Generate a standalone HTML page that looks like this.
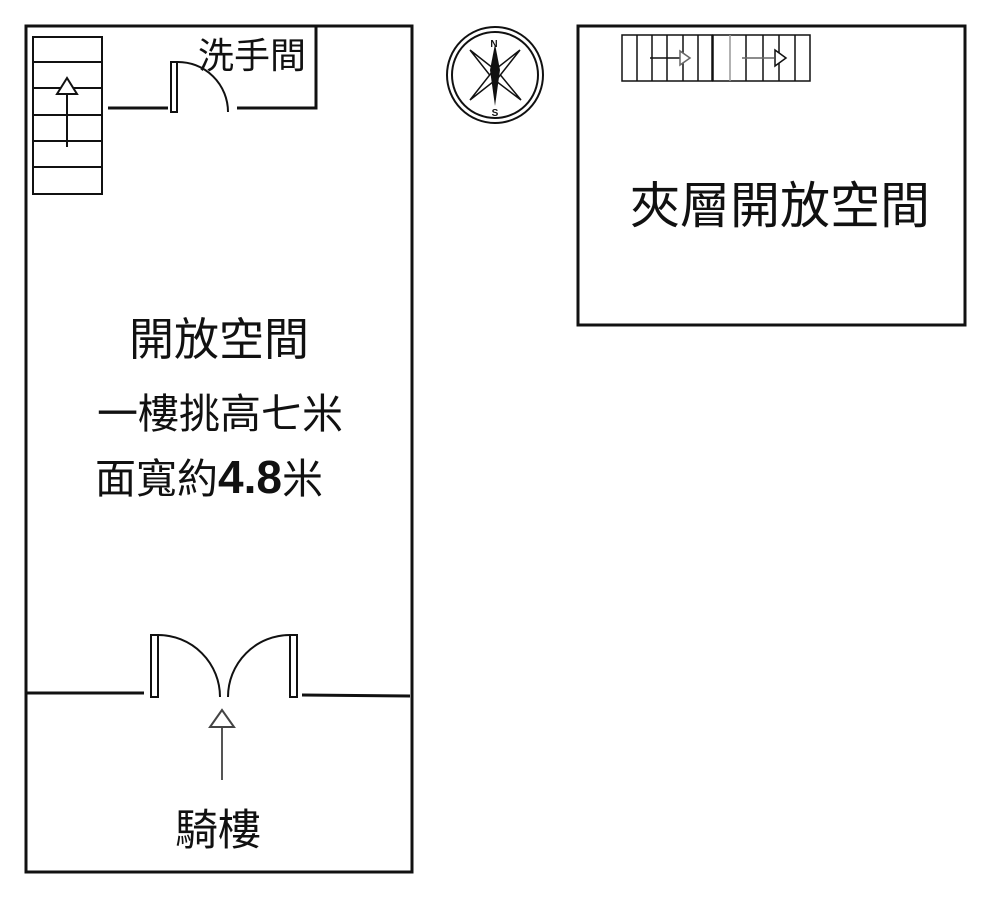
<!DOCTYPE html>
<html><head><meta charset="utf-8"><style>
html,body{margin:0;padding:0;background:#fff;}
svg{display:block;}
text{font-family:"Liberation Sans","Noto Sans CJK TC",sans-serif;fill:#111;}
</style></head><body>
<svg width="1000" height="915" viewBox="0 0 1000 915" xmlns="http://www.w3.org/2000/svg">
<g fill="none" stroke="#111">
<rect x="26" y="26" width="386" height="846" stroke-width="3"/>
<g stroke-width="2">
<rect x="33" y="37" width="69" height="157"/>
<line x1="33" y1="62" x2="102" y2="62"/>
<line x1="33" y1="88" x2="102" y2="88"/>
<line x1="33" y1="115" x2="102" y2="115"/>
<line x1="33" y1="141" x2="102" y2="141"/>
<line x1="33" y1="167" x2="102" y2="167"/>
<line x1="67" y1="147" x2="67" y2="94"/>
<polygon points="67,78 57,94 77,94" fill="#fff"/>
</g>
<polyline points="316,26 316,108 237,108" stroke-width="3"/>
<line x1="108" y1="108" x2="168" y2="108" stroke-width="3"/>
<rect x="171" y="62" width="6" height="50" stroke-width="2"/>
<path d="M177,62 A50,50 0 0 1 228,112" stroke-width="2"/>
<line x1="27" y1="693" x2="144" y2="693" stroke-width="3"/>
<line x1="302" y1="695" x2="410" y2="696" stroke-width="3"/>
<rect x="151" y="635" width="7" height="62" stroke-width="2"/>
<rect x="290" y="635" width="7" height="62" stroke-width="2"/>
<path d="M158,635 A62,62 0 0 1 220,697" stroke-width="2"/>
<path d="M290,635 A62,62 0 0 0 228,697" stroke-width="2"/>
<line x1="222" y1="780" x2="222" y2="727" stroke="#555" stroke-width="2"/>
<polygon points="222,710 210,727 234,727" fill="#fff" stroke="#444" stroke-width="2"/>
<circle cx="495" cy="75" r="48" stroke-width="2"/>
<circle cx="495" cy="75" r="43" stroke-width="2"/>
<polygon points="470,50 498,72 521,100 492,78" fill="#fff" stroke-width="1.5"/>
<polygon points="520,50 498,78 470,100 492,72" fill="#fff" stroke-width="1.5"/>
<polygon points="495,44 500,70 495,106 490,70" fill="#111" stroke="none"/>
<rect x="578" y="26" width="387" height="299" stroke-width="3"/>
<g stroke-width="1.5">
<rect x="622" y="35" width="90" height="46"/>
<line x1="637" y1="35" x2="637" y2="81"/>
<line x1="652" y1="35" x2="652" y2="81"/>
<line x1="667" y1="35" x2="667" y2="81"/>
<line x1="683" y1="35" x2="683" y2="81"/>
<line x1="698" y1="35" x2="698" y2="81"/>
<rect x="713" y="35" width="97" height="46"/>
<line x1="730" y1="35" x2="730" y2="81" stroke="#999"/>
<line x1="746" y1="35" x2="746" y2="81"/>
<line x1="763" y1="35" x2="763" y2="81"/>
<line x1="779" y1="35" x2="779" y2="81"/>
<line x1="795" y1="35" x2="795" y2="81"/>
<line x1="650" y1="58" x2="680" y2="58"/>
<polygon points="690,58 680,51 680,65" fill="#fff" stroke="#666"/>
<line x1="742" y1="58" x2="774" y2="58" stroke="#666"/>
<polygon points="786,58 775,50 775,66" fill="#fff"/>
</g>
</g>
<text x="494" y="47" font-size="10" font-weight="bold" text-anchor="middle">N</text>
<text x="495" y="116" font-size="10" font-weight="bold" text-anchor="middle">S</text>
<text x="198" y="68" font-size="36">洗手間</text>
<text x="630" y="223" font-size="50">夾層開放空間</text>
<text x="129" y="355" font-size="45">開放空間</text>
<text x="97" y="428" font-size="41">一樓挑高七米</text>
<text x="95" y="493" font-size="41">面寬約<tspan font-weight="bold" font-size="46">4.8</tspan>米</text>
<text x="175" y="845" font-size="43">騎樓</text>
</svg>
</body></html>
